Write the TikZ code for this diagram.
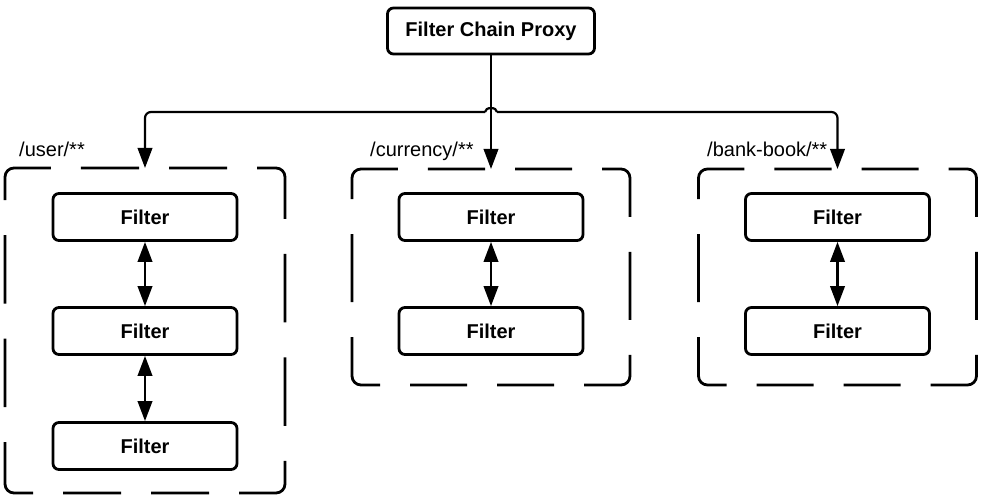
\documentclass[tikz,border=0pt]{standalone}
\usepackage{fontspec}
\setmainfont{Liberation Sans}
\usetikzlibrary{arrows.meta}
\tikzset{
    box/.style={
        draw,
        line width=2.8pt,
        rounded corners=6pt,
        inner sep=0pt,
        font=\fontsize{20}{24}\selectfont\bfseries
    },
    filter/.style={box, minimum width=184pt, minimum height=47pt},
    group/.style={minimum width=280pt, inner sep=0pt, outer sep=0pt},
    rim/.style={line width=2.8pt, rounded corners=9pt},
    tallrim/.style={rim, dash pattern=on 58pt off 30pt on 58pt off 30pt on 75pt off 35pt on 68.5pt off 35pt on 68.5pt off 35pt on 74pt off 30pt},
    shortrim/.style={rim, dash pattern=on 57pt off 30pt on 57pt off 30pt on 72pt off 35pt on 68pt off 35pt on 72pt off 30pt},
    route/.style={anchor=base west, inner sep=0pt, font=\fontsize{20}{24}\selectfont},
    link/.style={line width=2.2pt, -{Triangle[length=20pt,width=14.5pt]}},
    dbl/.style={line width=2.2pt, {Triangle[length=20pt,width=14.5pt]}-{Triangle[length=20pt,width=14.5pt]}}
}
\newcommand{\filter}[3] {
    \node[filter] (#1) at ({#2}, {#3}) {Filter};
}
\newcommand{\rim}[3] {
    \draw[#2] ([xshift=#3]#1.north west) -- (#1.north east) -- (#1.south east)
        -- (#1.south west) -- (#1.north west) -- cycle;
}
\begin{document}
\begin{tikzpicture}[x=1pt,y=-1pt]
    \useasboundingbox (0,0) rectangle (983,497);
    \node[box, minimum width=207pt, minimum height=46pt] (proxy) at (491,31) {Filter Chain Proxy};
    % route groups
    \node[group, minimum height=325pt] (usrgrp) at (145,330.5) {};
    \node[group, minimum width=278pt, minimum height=216pt] (curgrp) at (491,277) {};
    \node[group, minimum width=278pt, minimum height=216pt] (bnkgrp) at (837.5,277) {};
    \rim{usrgrp}{tallrim}{67pt}
    \rim{curgrp}{shortrim}{67pt}
    \rim{bnkgrp}{shortrim}{67pt}
    \node[route] (usrlbl) at (19,157) {/user/**};
    \node[route] (curlbl) at (370,157) {/currency/**};
    \node[route] (bnklbl) at (707,157) {/bank-book/**};
    % filters
    \filter{u1}{145}{217}
    \filter{u2}{145}{331}
    \filter{u3}{145}{446}
    \filter{c1}{491}{217}
    \filter{c2}{491}{331}
    \filter{b1}{837.5}{217}
    \filter{b2}{837.5}{331}
    % connectors
    \coordinate (hopl) at (485,112);
    \coordinate (hopr) at (497,112);
    \draw[link] (proxy.south) -- (curgrp.north);
    \draw[link, rounded corners=6pt] (hopl) -| (usrgrp.north);
    \draw[link, rounded corners=6pt] (hopr) -| (bnkgrp.north);
    \draw[line width=2.2pt] (hopl) arc[start angle=180, end angle=0, x radius=6pt, y radius=4pt];
    \draw[dbl] (u1) -- (u2);
    \draw[dbl] (u2) -- (u3);
    \draw[dbl] (c1) -- (c2);
    \draw[dbl] (b1) -- (b2);
\end{tikzpicture}
\end{document}
